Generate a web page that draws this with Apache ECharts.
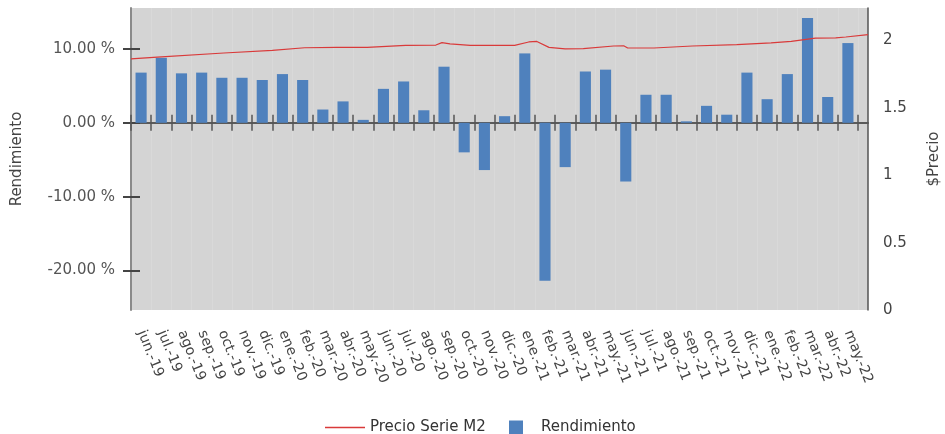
<!DOCTYPE html>
<html>
<head>
<meta charset="utf-8">
<script src="https://cdn.jsdelivr.net/npm/echarts@6/dist/echarts.min.js"></script>
<style>
html,body{margin:0;padding:0;background:#fff;}
#c{width:945px;height:434px;}
</style>
</head>
<body>
<div id="c"></div>
<script>
// Month categories (x axis)
const categories = ['jun.-19','jul.-19','ago.-19','sep.-19','oct.-19','nov.-19','dic.-19',
  'ene.-20','feb.-20','mar.-20','abr.-20','may.-20','jun.-20','jul.-20','ago.-20','sep.-20','oct.-20','nov.-20','dic.-20',
  'ene.-21','feb.-21','mar.-21','abr.-21','may.-21','jun.-21','jul.-21','ago.-21','sep.-21','oct.-21','nov.-21','dic.-21',
  'ene.-22','feb.-22','mar.-22','abr.-22','may.-22'];
// Rendimiento (%) per month
const rendimiento = [6.8, 8.8, 6.7, 6.8, 6.1, 6.1, 5.8,
  6.6, 5.8, 1.8, 2.9, 0.4, 4.6, 5.6, 1.7, 7.6, -4.0, -6.4, 0.9,
  9.4, -21.4, -6.0, 6.95, 7.2, -7.95, 3.8, 3.8, 0.2, 2.3, 1.1, 6.8,
  3.2, 6.6, 14.2, 3.5, 10.8];
// Precio Serie M2: position in months since start of jun.-19, and price
const precioPos = [0, 1.3, 4.6, 7.0, 8.6, 10.2, 11.7, 13.6, 15.1, 15.4, 15.8, 16.8, 19.0, 19.7, 20.1, 20.7, 21.5, 22.4, 23.9, 24.4, 24.6, 25.9, 27.8, 30.0, 31.7, 32.7, 33.9, 34.9, 35.4, 36.5];
const precioVal = [1.863, 1.877, 1.907, 1.927, 1.946, 1.949, 1.949, 1.964, 1.966, 1.984, 1.975, 1.964, 1.964, 1.989, 1.993, 1.949, 1.937, 1.939, 1.959, 1.961, 1.944, 1.944, 1.959, 1.969, 1.982, 1.993, 2.018, 2.020, 2.026, 2.043];
// Tick values
const leftTicks = [-20, -10, 0, 10];
const rightTicks = [0, 0.5, 1, 1.5, 2];

const FONT = 'DejaVu Sans';
const Y_MIN = -25.35, Y_MAX = 15.55;
const chart = echarts.init(document.getElementById('c'), null, {renderer: 'canvas'});
const catAxisBase = {type: 'category', data: categories, gridIndex: 1, position: 'bottom'};
chart.setOption({
  animation: false,
  textStyle: {fontFamily: FONT},
  grid: [
    {left: 131, right: 77, top: 8, bottom: 124, show: true, backgroundColor: '#d4d4d4', borderWidth: 0,
     containLabel: false, outerBoundsMode: 'none'},
    {left: 131, right: 87, top: 8, bottom: 124, show: false, containLabel: false, outerBoundsMode: 'none'}
  ],
  legend: [
    {data: [{name: 'Precio Serie M2', icon: 'rect'}], left: 320, top: 415, itemWidth: 40, itemHeight: 1.5,
     textStyle: {fontSize: 15, color: '#333', fontFamily: FONT}},
    {data: [{name: 'Rendimiento', icon: 'rect'}], left: 504, top: 415, itemWidth: 14, itemHeight: 14,
     textStyle: {fontSize: 15, color: '#333', fontFamily: FONT, padding: [0, 0, 0, 13]}}
  ],
  xAxis: [
    Object.assign({}, catAxisBase, {
      axisLine: {show: false, onZero: false},
      axisTick: {show: false},
      splitLine: {show: true, interval: 0, lineStyle: {color: 'rgba(255,255,255,0.12)', width: 1}},
      axisLabel: {rotate: -68, interval: 0, fontSize: 14, color: '#444', fontFamily: FONT, margin: 21}
    }),
    Object.assign({}, catAxisBase, {
      axisLine: {show: true, onZero: true, onZeroAxisIndex: 3, lineStyle: {color: '#5a5a5a', width: 2}},
      axisTick: {show: true, interval: 0, inside: false, length: 8, lineStyle: {color: '#555', width: 1.5}},
      axisLabel: {show: false}, splitLine: {show: false}
    }),
    Object.assign({}, catAxisBase, {
      axisLine: {show: true, onZero: true, onZeroAxisIndex: 3, lineStyle: {color: '#5a5a5a', width: 2}},
      axisTick: {show: true, interval: 0, inside: true, length: 8, lineStyle: {color: '#555', width: 1.5}},
      axisLabel: {show: false}, splitLine: {show: false}
    }),
    {type: 'value', min: 0, max: 36.5, gridIndex: 0, position: 'bottom',
     axisLine: {show: true, onZero: true, onZeroAxisIndex: 0, lineStyle: {color: '#5a5a5a', width: 2}},
     axisTick: {show: false}, axisLabel: {show: false}, splitLine: {show: false}}
  ],
  yAxis: [
    {type: 'value', gridIndex: 0, position: 'left', min: Y_MIN, max: Y_MAX,
     name: 'Rendimiento', nameLocation: 'middle', nameGap: 106, nameRotate: 90,
     nameTextStyle: {fontSize: 15, color: '#444', fontFamily: FONT},
     axisLine: {show: true, onZero: false, lineStyle: {color: '#8a8a8a', width: 2}},
     axisTick: {show: true, inside: false, length: 8, customValues: leftTicks, lineStyle: {color: '#444', width: 2}},
     axisLabel: {customValues: leftTicks, fontSize: 15, color: '#555', fontFamily: FONT, margin: 16,
       formatter: v => v.toFixed(2) + ' %'},
     splitLine: {show: false}},
    {type: 'value', gridIndex: 0, position: 'left', min: Y_MIN, max: Y_MAX,
     axisLine: {show: false, onZero: false},
     axisTick: {show: true, inside: true, length: 9, customValues: leftTicks, lineStyle: {color: '#444', width: 2}},
     axisLabel: {show: false}, splitLine: {show: false}},
    {type: 'value', gridIndex: 0, position: 'right', min: 0, max: 2.241,
     name: '$Precio', nameLocation: 'middle', nameGap: 59, nameRotate: 90,
     nameTextStyle: {fontSize: 15, color: '#444', fontFamily: FONT},
     axisLine: {show: true, onZero: false, lineStyle: {color: '#555', width: 1.5}},
     axisTick: {show: false},
     axisLabel: {customValues: rightTicks, fontSize: 15, color: '#444', fontFamily: FONT, margin: 15,
       formatter: v => String(v)},
     splitLine: {show: false}},
    {type: 'value', gridIndex: 1, min: Y_MIN, max: Y_MAX, show: false, axisLine: {onZero: false}}
  ],
  series: [
    {name: 'Rendimiento', type: 'bar', xAxisIndex: 1, yAxisIndex: 3, data: rendimiento,
     barWidth: '55%', itemStyle: {color: '#4f81bd'}, z: 1},
    {name: 'Precio Serie M2', type: 'line', xAxisIndex: 3, yAxisIndex: 2,
     data: precioPos.map((p, i) => [p, precioVal[i]]),
     symbol: 'none', showSymbol: false, lineStyle: {color: '#d93a3a', width: 1.2}, itemStyle: {color: '#d93a3a'}, z: 3}
  ]
});
</script>
</body>
</html>
